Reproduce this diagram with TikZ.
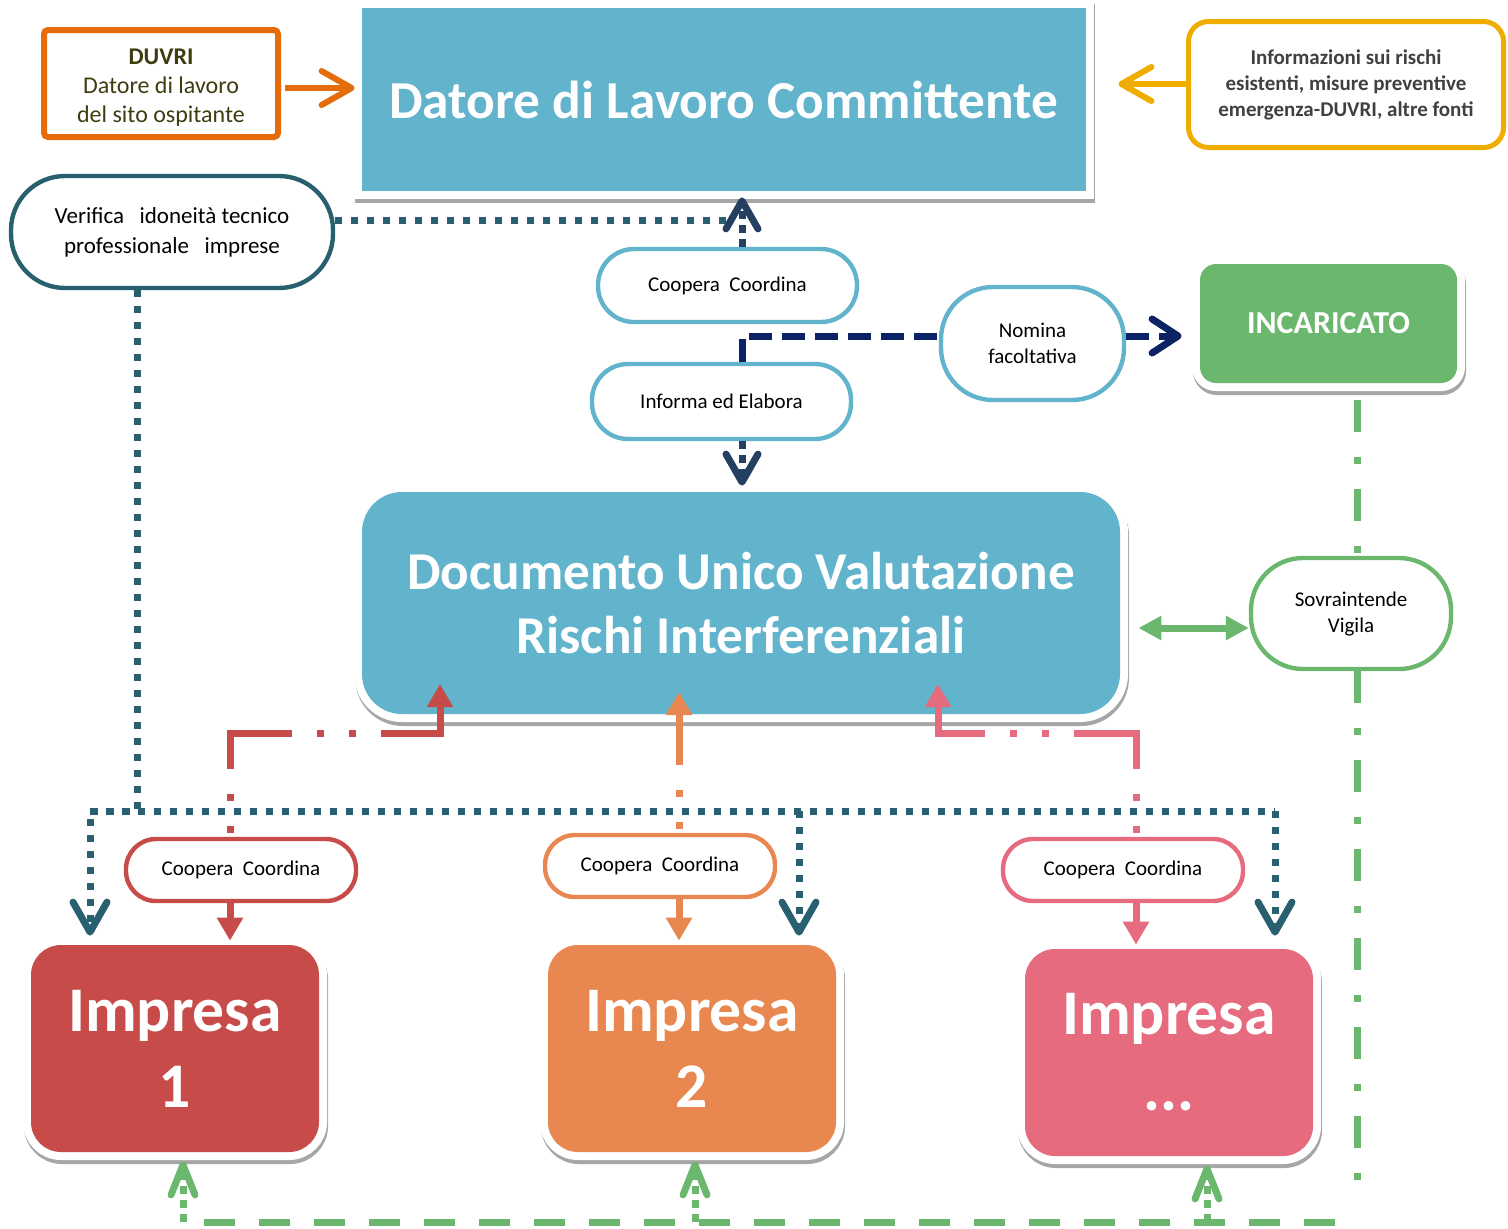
\documentclass[tikz,border=0pt]{standalone}
\usepackage{fontspec}
\setmainfont{Carlito}
\usetikzlibrary{arrows.meta}
\definecolor{cblue}{HTML}{62B3CC}
\definecolor{corange}{HTML}{E46C0A}
\definecolor{cgold}{HTML}{EFAD00}
\definecolor{cteal}{HTML}{28606F}
\definecolor{cnavyA}{HTML}{243F60}
\definecolor{cnavyB}{HTML}{0B2365}
\definecolor{cgreen}{HTML}{6BB76D}
\definecolor{cred}{HTML}{C74B49}
\definecolor{corg}{HTML}{E8874F}
\definecolor{cpink}{HTML}{E66B7E}
\definecolor{colive}{HTML}{3F3C10}
\definecolor{cgraytext}{HTML}{404040}
\tikzset{
  boxshadow/.style={preaction={draw=black!35, line width=8pt, transform canvas={shift={(0.5pt,-2pt)}}},
                    preaction={draw=white, line width=8pt}},
  pill/.style={draw, line width=2.2pt, fill=white, inner sep=0pt, align=center, text=black,
               font=\fontsize{10.5pt}{13pt}\selectfont},
  bigbox/.style={boxshadow, inner sep=0pt, align=center, text=white},
  chev/.style={-{Straight Barb[length=#1, width=17pt, round]}},
  tealdot/.style={draw=cteal, line width=3.5pt, dash pattern=on 3.5pt off 4.5pt},
  navyshort/.style={draw=cnavyA, line width=3.5pt, dash pattern=on 4pt off 3pt},
  navydash/.style={draw=cnavyB, line width=3.5pt, dash pattern=on 11.5pt off 5pt},
  greendd/.style={draw=cgreen, line width=3.5pt, dash pattern=on 16pt off 12.5pt on 3.5pt off 12.5pt},
  greendash/.style={draw=cgreen, line width=3.5pt, dash pattern=on 15.5pt off 12pt},
  greenshort/.style={draw=cgreen, line width=3.5pt, dash pattern=on 4pt off 3pt},
  conn/.style={draw=#1, line width=3.5pt,
     dash pattern=on 49pt off 12.5pt on 3.5pt off 12.5pt on 3.5pt off 12.5pt, dash phase=59.5pt,
     -{Triangle[length=11.5pt, width=12.5pt]}},
  solidarr/.style={draw=#1, line width=3.5pt, -{Triangle[length=11.5pt, width=12.5pt]}, shorten >=2pt},
}
\begin{document}
\begin{tikzpicture}[x=0.5pt, y=-0.5pt]
\useasboundingbox (0,0) rectangle (1508,1228);

% ---------- nodes ----------
\node[bigbox, fill=cblue, minimum width=362pt, minimum height=91.5pt,
      font=\bfseries\fontsize{26.7pt}{30pt}\selectfont] (top) at (724,99.5) {Datore di Lavoro Committente};

\node[draw=corange, line width=3pt, rounded corners=2pt, minimum width=117pt, minimum height=53.5pt,
      inner sep=0pt] (src) at (161,83.5) {};
\node[inner sep=0pt, align=center, text=colive, font=\fontsize{12pt}{14.5pt}\selectfont]
      (srctext) at (161,88) {\textbf{DUVRI}\\Datore di lavoro\\del sito ospitante};

\node[draw=cgold, line width=2.5pt, rounded corners=10pt, minimum width=157.5pt, minimum height=63pt,
      inner sep=0pt, align=center, text=cgraytext, font=\bfseries\fontsize{10.5pt}{13pt}\selectfont]
      (info) at (1346,84.5) {Informazioni sui rischi\\esistenti, misure preventive\\emergenza-DUVRI, altre fonti};

\node[pill, draw=cteal, minimum width=161pt, minimum height=56pt, rounded corners=27pt,
      font=\fontsize{11.5pt}{15pt}\selectfont]
      (verif) at (172,232) {Verifica\hspace{0.45em} idoneità tecnico\\professionale\hspace{0.45em} imprese};

\node[pill, draw=cblue, minimum width=129.5pt, minimum height=36.5pt, rounded corners=18pt]
      (cc0) at (727.5,285.5) {Coopera\ \ Coordina};
\node[pill, draw=cblue, minimum width=129.5pt, minimum height=37.5pt, rounded corners=18pt]
      (informa) at (721.5,401.5) {Informa ed Elabora};
\node[pill, draw=cblue, minimum width=91.5pt, minimum height=56.5pt, rounded corners=26pt]
      (nomina) at (1032.5,343.5) {Nomina\\facoltativa};

\node[bigbox, fill=cgreen, rounded corners=8pt, minimum width=128.5pt, minimum height=59.5pt,
      font=\bfseries\fontsize{16pt}{18pt}\selectfont] (incaricato) at (1328.5,323.5) {INCARICATO};

\node[pill, draw=cgreen, minimum width=100pt, minimum height=55.5pt, rounded corners=26pt]
      (sovra) at (1351,613.5) {Sovraintende\\Vigila};

\node[bigbox, fill=cblue, rounded corners=20pt, minimum width=379pt, minimum height=111pt,
      font=\bfseries\fontsize{26.6pt}{32pt}\selectfont] (duvri) at (741,603)
      {Documento Unico Valutazione\\Rischi Interferenziali};

\node[pill, draw=cred, minimum width=115pt, minimum height=31pt, rounded corners=15pt]
      (cc1) at (241,870) {Coopera\ \ Coordina};
\node[pill, draw=corg, minimum width=115pt, minimum height=31pt, rounded corners=15pt]
      (cc2) at (660,866) {Coopera\ \ Coordina};
\node[pill, draw=cpink, minimum width=120pt, minimum height=31pt, rounded corners=15pt]
      (cc3) at (1123,870) {Coopera\ \ Coordina};

\tikzset{impbox/.style={bigbox, rounded corners=15pt, minimum width=144pt, minimum height=103.5pt,
      font=\bfseries\fontsize{31.8pt}{38pt}\selectfont}}
\node[impbox, fill=cred] (imp1) at (175,1048.5) {Impresa\\1};
\node[impbox, fill=corg] (imp2) at (692,1048.5) {Impresa\\2};
\node[impbox, fill=cpink] (imp3) at (1169,1052.5) {Impresa\\...};

% ---------- helper coordinates ----------
\coordinate (sy) at (0,88);
\coordinate (iy) at (0,84);
\coordinate (jt) at (735,220);
\coordinate (ax) at (742,0);
\coordinate (ny) at (0,336);
\coordinate (gx) at (1357,0);
\coordinate (gy) at (0,1222);
\coordinate (dy) at (0,628);
\coordinate (g1x) at (183,0);
\coordinate (g2x) at (695,0);
\coordinate (g3x) at (1207,0);
\coordinate (tx0) at (137,0);
\coordinate (tx1) at (90,811);
\coordinate (tx2) at (799,811);
\coordinate (tx3) at (1275,811);
\coordinate (rx) at (230,0);
\coordinate (ox) at (679,0);
\coordinate (pkx) at (1136,0);
\coordinate (rb) at (440,733);
\coordinate (re) at (440,684);
\coordinate (oe) at (679,692);
\coordinate (pb) at (938,733);
\coordinate (pe) at (938,684);

% ---------- connectors ----------
% top row
\draw[draw=corange, line width=3pt, chev=15pt, shorten <=2pt, shorten >=3.5pt]
  (src.east |- sy) -- (top.west |- sy);
\draw[draw=cgold, line width=3pt, chev=15pt, shorten >=16pt]
  (info.west |- iy) -- (top.east |- iy);

% verifica
\draw[tealdot] ([yshift=6pt]verif.east) -- (jt);
\draw[tealdot, chev=15pt, shorten >=4.5pt] (verif.south -| tx0) |- (tx1) -- (tx1 |- imp1.north);
\draw[tealdot] (tx1) -- (tx3);
\draw[tealdot, chev=15pt, shorten >=4.5pt] (tx2) -- (tx2 |- imp2.north);
\draw[tealdot, chev=15pt, shorten >=6.5pt] (tx3) -- (tx3 |- imp3.north);

% navy
\draw[navyshort, -{Straight Barb[length=14pt, width=16pt, round]}, shorten >=3pt]
  (cc0.north -| ax) -- (top.south -| ax);
\draw[navyshort, -{Straight Barb[length=14pt, width=16pt, round]}, shorten >=3pt]
  (informa.south -| ax) -- (duvri.north -| ax);
\draw[navydash] (informa.north -| ax) |- (nomina.west |- ny);
\draw[navydash, -{Straight Barb[length=13pt, width=17pt, round]}, shorten >=9pt]
  (nomina.east |- ny) -- (incaricato.west |- ny);

% green
\draw[greendd, shorten <=8.5pt] (incaricato.south -| gx) -- (sovra.north -| gx);
\draw[greendd, shorten >=13pt] (sovra.south -| gx) -- (gx |- gy);
\draw[greendash, shorten <=11pt] (gx |- gy) -- (g1x |- gy);
\draw[greenshort, -{Straight Barb[length=15pt, width=12pt, round]}, shorten >=4.5pt]
  (g1x |- gy) -- (g1x |- imp1.south);
\draw[greenshort, -{Straight Barb[length=15pt, width=12pt, round]}, shorten >=4.5pt]
  (g2x |- gy) -- (g2x |- imp2.south);
\draw[greenshort, -{Straight Barb[length=15pt, width=12pt, round]}, shorten >=4.5pt]
  (g3x |- gy) -- (g3x |- imp3.south);
\draw[draw=cgreen, line width=3.5pt, {Triangle[length=11.5pt, width=11.5pt]}-{Triangle[length=11.5pt, width=11.5pt]},
      shorten <=9pt] (duvri.east |- dy) -- (sovra.west |- dy);

% impresa connectors
\draw[conn=cred] (cc1.north -| rx) |- (rb) -- (re);
\draw[solidarr=cred] (cc1.south -| rx) -- (imp1.north -| rx);
\draw[conn=corg] (cc2.north -| ox) -- (oe);
\draw[solidarr=corg] (cc2.south -| ox) -- (imp2.north -| ox);
\draw[conn=cpink] (cc3.north -| pkx) |- (pb) -- (pe);
\draw[solidarr=cpink] (cc3.south -| pkx) -- (imp3.north -| pkx);
\end{tikzpicture}
\end{document}
